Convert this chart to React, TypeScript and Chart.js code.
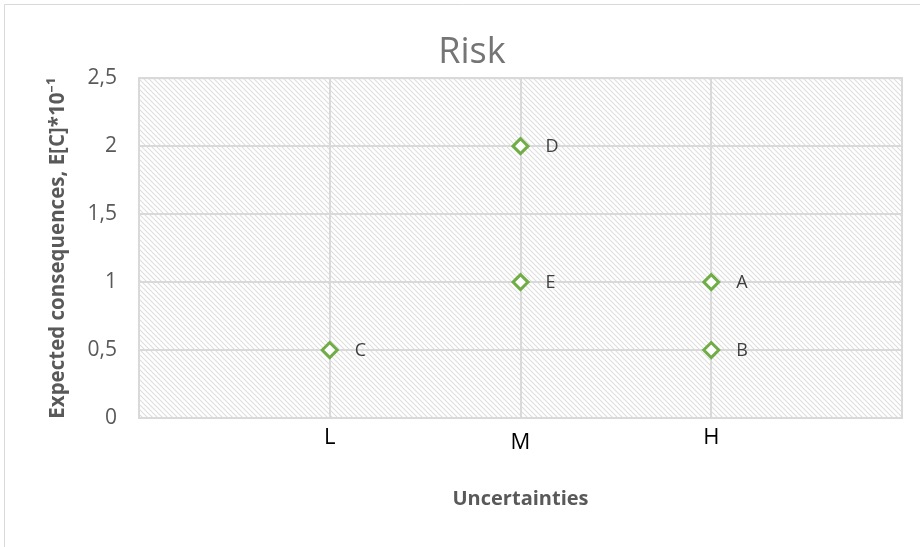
import React, { useEffect, useRef } from "react";
import { Chart, registerables } from "chart.js";

Chart.register(...registerables);

const categories = ["L", "M", "H"];
const pointNames = ["A", "B", "C", "D", "E"];
const pointX = [3, 3, 1, 2, 2];
const pointY = [1, 0.5, 0.5, 2, 1];
const yTicks = [0, 0.5, 1, 1.5, 2, 2.5];

const FONT = "'Open Sans', 'Noto Sans', sans-serif";

function makePattern(ctx: CanvasRenderingContext2D) {
  const s = 5;
  const c = document.createElement("canvas");
  c.width = s;
  c.height = s;
  const g = c.getContext("2d")!;
  g.fillStyle = "#ffffff";
  g.fillRect(0, 0, s, s);
  g.strokeStyle = "#dedede";
  g.lineWidth = 1.1;
  g.beginPath();
  g.moveTo(-1, -1);
  g.lineTo(s + 1, s + 1);
  g.moveTo(-1, s - 1);
  g.lineTo(1, s + 1);
  g.moveTo(s - 1, -1);
  g.lineTo(s + 1, 1);
  g.stroke();
  return ctx.createPattern(c, "repeat")!;
}

const bgPlugin = {
  id: "bgPlugin",
  beforeDraw(chart: any) {
    const { ctx, chartArea: a } = chart;
    ctx.save();
    ctx.fillStyle = "#ffffff";
    ctx.fillRect(0, 0, chart.width, chart.height);
    ctx.strokeStyle = "#d9d9d9";
    ctx.lineWidth = 1;
    ctx.beginPath();
    ctx.moveTo(4.5, chart.height + 2);
    ctx.lineTo(4.5, 4.5);
    ctx.lineTo(chart.width + 2, 4.5);
    ctx.stroke();
    ctx.fillStyle = makePattern(ctx);
    ctx.fillRect(a.left, a.top, a.right - a.left, a.bottom - a.top);
    ctx.restore();
  },
  afterDatasetsDraw(chart: any) {
    const { ctx, chartArea: a } = chart;
    ctx.save();
    ctx.strokeStyle = "#d9d9d9";
    ctx.lineWidth = 2;
    ctx.strokeRect(a.left, a.top, a.right - a.left, a.bottom - a.top);
    ctx.restore();
  },
  afterDraw(chart: any) {
    const { ctx } = chart;
    const xs = chart.scales.x;
    const ys = chart.scales.y;
    ctx.save();
    ctx.fillStyle = "#000000";
    ctx.font = `22px ${FONT}`;
    ctx.textAlign = "center";
    ctx.textBaseline = "middle";
    categories.forEach((c, i) => {
      const px = xs.getPixelForValue(i + 1);
      const off = c === "M" ? 5 : 0;
      ctx.fillText(c, px, ys.bottom + 20 + off);
    });
    ctx.fillStyle = "#404040";
    ctx.font = `18px ${FONT}`;
    ctx.textAlign = "left";
    pointNames.forEach((n, i) => {
      const px = xs.getPixelForValue(pointX[i]);
      const py = ys.getPixelForValue(pointY[i]);
      ctx.fillText(n, px + 25, py + 1);
    });
    ctx.restore();
  },
};

export default function App() {
  const ref = useRef<HTMLCanvasElement>(null);
  useEffect(() => {
    document.body.style.margin = "0";
    const chart = new Chart(ref.current!, {
      type: "scatter",
      data: {
        datasets: [
          {
            label: "Risk",
            data: pointX.map((x, i) => ({ x, y: pointY[i] })),
            pointStyle: "rectRot",
            pointRadius: 7.5,
            pointBorderWidth: 3,
            borderColor: "#70AD47",
            backgroundColor: "#ffffff",
            pointBackgroundColor: "#ffffff",
            pointBorderColor: "#70AD47",
          },
        ],
      },
      options: {
        animation: false,
        responsive: false,
        layout: { padding: { left: 42, right: 18, top: 0, bottom: 36 } },
        plugins: {
          legend: { display: false },
          tooltip: { enabled: false },
          title: {
            display: true,
            text: "Risk",
            color: "#757575",
            font: { family: FONT, size: 36, weight: "normal" },
            padding: { top: 31, bottom: 4 },
          },
        },
        scales: {
          x: {
            type: "linear",
            min: 0,
            max: 4,
            border: { display: false },
            grid: {
              color: (ctx: any) =>
                ctx.tick && (ctx.tick.value === 0 || ctx.tick.value === 4)
                  ? "rgba(0,0,0,0)"
                  : "#d9d9d9",
              lineWidth: 2,
              drawTicks: false,
            },
            ticks: { stepSize: 1, display: false },
            afterFit: (s: any) => {
              s.height = 93;
            },
            title: {
              display: true,
              text: "Uncertainties",
              color: "#595959",
              font: { family: FONT, size: 20, weight: "bold" },
              padding: { top: 0, bottom: 0 },
            },
          },
          y: {
            min: 0,
            max: 2.5,
            border: { display: false },
            grid: { color: "#d9d9d9", lineWidth: 2, drawTicks: false },
            afterBuildTicks: (s: any) => {
              s.ticks = yTicks.map((v) => ({ value: v }));
            },
            ticks: {
              color: "#595959",
              padding: 22,
              font: { family: FONT, size: 21 },
              callback: (v: any) => String(v).replace(".", ","),
            },
            afterFit: (s: any) => {
              s.width = 97;
            },
            title: {
              display: true,
              text: "Expected consequences, E[C]*10⁻¹",
              color: "#595959",
              font: { family: FONT, size: 20.5, weight: "bold" },
              padding: { top: 4, bottom: 0 },
            },
          },
        },
      },
      plugins: [bgPlugin],
    });
    return () => chart.destroy();
  }, []);
  return (
    <div style={{ width: 920, height: 547 }}>
      <canvas ref={ref} width={920} height={547} />
    </div>
  );
}
